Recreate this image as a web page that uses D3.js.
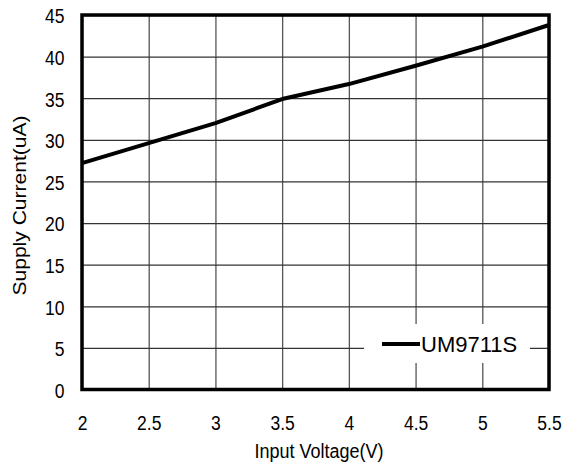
<!DOCTYPE html>
<html>
<head>
<meta charset="utf-8">
<script src="https://cdn.jsdelivr.net/npm/d3@7"></script>
<style>
  html, body { margin: 0; padding: 0; background: #fff; }
  svg { display: block; font-family: "Liberation Sans", Arial, sans-serif; }
</style>
</head>
<body>
<svg id="chart" width="572" height="468"></svg>
<script>
// Supply current vs. input voltage, UM9711S
const voltage = [2, 2.5, 3, 3.5, 4, 4.5, 5, 5.5];
const current = [27.2, 29.6, 32.0, 34.9, 36.7, 38.9, 41.2, 43.8];
const xTicks = [2, 2.5, 3, 3.5, 4, 4.5, 5, 5.5];
const yTicks = [0, 5, 10, 15, 20, 25, 30, 35, 40, 45];
const seriesName = "UM9711S";
const xTitle = "Input Voltage(V)";
const yTitle = "Supply Current(uA)";

const stretch = 1.17; // text is drawn slightly tall
const svg = d3.select("#chart");
const plotLeft = 82, plotRight = 549, plotTop = 15, plotBottom = 389.5;

const x = d3.scaleLinear().domain([2, 5.5]).range([plotLeft, plotRight]);
const y = d3.scaleLinear().domain([0, 45]).range([plotBottom, plotTop]);

// grid
svg.append("g")
  .attr("transform", `translate(0,${plotBottom})`)
  .call(d3.axisBottom(x).tickValues(xTicks).tickSize(-(plotBottom - plotTop)).tickFormat(""))
  .call(g => g.select(".domain").remove())
  .call(g => g.selectAll("line").attr("stroke", "#555").attr("stroke-width", 1.3));
svg.append("g")
  .attr("transform", `translate(${plotLeft},0)`)
  .call(d3.axisLeft(y).tickValues(yTicks).tickSize(-(plotRight - plotLeft)).tickFormat(""))
  .call(g => g.select(".domain").remove())
  .call(g => g.selectAll("line").attr("stroke", "#333").attr("stroke-width", 1.3));

// tick labels
svg.append("g")
  .attr("transform", `translate(0,${plotBottom})`)
  .call(d3.axisBottom(x).tickValues(xTicks).tickSize(0).tickFormat(d3.format("")))
  .call(g => g.select(".domain").remove())
  .call(g => g.selectAll("text")
    .attr("y", 40.5 / stretch).attr("dy", 0)
    .attr("transform", `scale(1,${stretch})`)
    .attr("fill", "#000").attr("font-size", 17.5)
    .attr("font-family", "Liberation Sans, Arial, sans-serif"));
svg.append("g")
  .attr("transform", `translate(${plotLeft},0)`)
  .call(d3.axisLeft(y).tickValues(yTicks).tickSize(0).tickFormat(d3.format("")))
  .call(g => g.select(".domain").remove())
  .call(g => g.selectAll("text")
    .attr("x", -17.5).attr("dy", "0.38em")
    .attr("transform", `scale(1,${stretch})`)
    .attr("fill", "#000").attr("font-size", 17.5)
    .attr("font-family", "Liberation Sans, Arial, sans-serif"));

// data line
svg.append("path")
  .datum(voltage.map((v, i) => [v, current[i]]))
  .attr("fill", "none")
  .attr("stroke", "#000")
  .attr("stroke-width", 4)
  .attr("stroke-linejoin", "round")
  .attr("d", d3.line().x(d => x(d[0])).y(d => y(d[1])));

// frame
svg.append("rect")
  .attr("x", plotLeft).attr("y", plotTop)
  .attr("width", plotRight - plotLeft).attr("height", plotBottom - plotTop)
  .attr("fill", "none").attr("stroke", "#000").attr("stroke-width", 3.5);

// legend
const lg = svg.append("g");
lg.append("rect").attr("x", 364).attr("y", 324).attr("width", 166).attr("height", 39).attr("fill", "#fff");
lg.append("line").attr("x1", 382).attr("x2", 420).attr("y1", 344).attr("y2", 344)
  .attr("stroke", "#000").attr("stroke-width", 4);
lg.append("text").attr("x", 421).attr("y", 351.5).attr("font-size", 22).attr("fill", "#000").text(seriesName);

// axis titles
svg.append("text")
  .attr("text-anchor", "middle")
  .attr("transform", `translate(319,458) scale(1,${stretch})`)
  .attr("font-size", 18).attr("fill", "#000")
  .text(xTitle);
svg.append("text")
  .attr("text-anchor", "middle")
  .attr("transform", `translate(25.5,205.5) scale(1,${stretch}) rotate(-90)`)
  .attr("font-size", 18).attr("fill", "#000")
  .text(yTitle);
</script>
</body>
</html>
